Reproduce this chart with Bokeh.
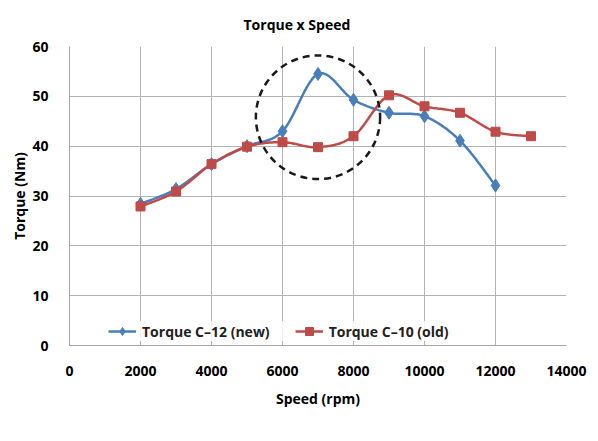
import numpy as np
from bokeh.plotting import figure
from bokeh.models import (Legend, LegendItem, Range1d, FixedTicker, Title)
from bokeh.embed import file_html
from bokeh.resources import INLINE

# ---- data ----
speed_new = [2000, 3000, 4000, 5000, 6000, 7000, 8000, 9000, 10000, 11000, 12000]
torque_new = [28.4, 31.4, 36.4, 40.0, 43.0, 54.5, 49.3, 46.7, 46.0, 41.1, 32.1]
speed_old = [2000, 3000, 4000, 5000, 6000, 7000, 8000, 9000, 10000, 11000, 12000, 13000]
torque_old = [27.9, 30.9, 36.4, 39.9, 40.8, 39.8, 42.0, 50.2, 48.0, 46.7, 42.9, 42.0]
x_ticks = [0, 2000, 4000, 6000, 8000, 10000, 12000, 14000]
y_ticks = [0, 10, 20, 30, 40, 50, 60]
highlight_center = (7000, 45.8)
highlight_size = (3500, 24.8)

BLUE = "#4a7ebb"
RED = "#be4b48"
FONT = "Open Sans"


def smooth(xs, ys, n=24):
    pts = np.array(list(zip(xs, ys)), dtype=float)
    m = len(pts)
    ox, oy = [], []
    for i in range(m - 1):
        p0 = pts[i - 1] if i > 0 else pts[i]
        p1 = pts[i]
        p2 = pts[i + 1]
        p3 = pts[i + 2] if i + 2 < m else pts[i + 1]
        c1 = p1 + (p2 - p0) / 6.0
        c2 = p2 - (p3 - p1) / 6.0
        ts = np.linspace(0, 1, n, endpoint=(i == m - 2))
        for t in ts:
            b = ((1 - t) ** 3) * p1 + 3 * ((1 - t) ** 2) * t * c1 + 3 * (1 - t) * t * t * c2 + t ** 3 * p2
            ox.append(b[0])
            oy.append(b[1])
    return ox, oy


p = figure(width=598, height=441, output_backend="svg", toolbar_location=None,
           x_range=Range1d(0, 14000), y_range=Range1d(0, 60),
           min_border_left=69, min_border_right=32, min_border_top=45, min_border_bottom=96)
p.outline_line_color = None
p.background_fill_color = "white"
p.border_fill_color = "white"

p.title = Title(text="Torque x Speed", align="left", offset=174, standoff=25,
                text_font=FONT, text_font_style="bold", text_font_size="14px",
                text_color="black")

for ax in (p.xaxis[0], p.yaxis[0]):
    ax.major_tick_in = 0
    ax.major_tick_out = 0
    ax.minor_tick_in = 0
    ax.minor_tick_out = 0
    ax.axis_line_color = "#a6a6a6"
    ax.major_label_text_font = FONT
    ax.major_label_text_font_style = "bold"
    ax.major_label_text_font_size = "14px"
    ax.major_label_text_color = "black"
    ax.axis_label_text_font = FONT
    ax.axis_label_text_font_style = "bold"
    ax.axis_label_text_font_size = "14px"
    ax.axis_label_text_color = "black"

p.xaxis.ticker = FixedTicker(ticks=x_ticks)
p.yaxis.ticker = FixedTicker(ticks=y_ticks)
p.xaxis.major_label_standoff = 20
p.yaxis.major_label_standoff = 21
p.xaxis.axis_label = "Speed (rpm)"
p.yaxis.axis_label = "Torque (Nm)"
p.xaxis.axis_label_standoff = 10
p.yaxis.axis_label_standoff = 0

p.xgrid.ticker = FixedTicker(ticks=x_ticks)
p.ygrid.ticker = FixedTicker(ticks=y_ticks)
p.xgrid.grid_line_color = "#b3b3b3"
p.ygrid.grid_line_color = "#b3b3b3"

sx, sy = smooth(speed_new, torque_new)
l1 = p.line(sx, sy, line_color=BLUE, line_width=2.5)
m1 = p.scatter(speed_new, torque_new, marker="diamond", size=13, fill_color=BLUE, line_color=BLUE)

sx2, sy2 = smooth(speed_old, torque_old)
l2 = p.line(sx2, sy2, line_color=RED, line_width=2.5)
m2 = p.scatter(speed_old, torque_old, marker="square", size=9, fill_color=RED, line_color=RED)

p.ellipse(x=[highlight_center[0]], y=[highlight_center[1]], width=[highlight_size[0]],
          height=[highlight_size[1]], fill_alpha=0, line_color="#1a1a1a", line_width=2.5,
          line_dash="7 5")

legend = Legend(items=[LegendItem(label="Torque C\u201312 (new)", renderers=[l1, m1]),
                       LegendItem(label="Torque C\u201310 (old)", renderers=[l2, m2])],
                orientation="horizontal", location=(39, 4))
legend.padding = 2
legend.margin = 0
legend.border_line_color = None
legend.background_fill_color = "white"
legend.background_fill_alpha = 0.85
legend.glyph_width = 28
legend.label_standoff = 6
legend.spacing = 25
legend.label_text_font = FONT
legend.label_text_font_size = "14px"
legend.label_text_font_style = "bold"
legend.label_text_color = "#222222"
p.add_layout(legend, "center")

open("out.html", "w").write(file_html(p, INLINE))
